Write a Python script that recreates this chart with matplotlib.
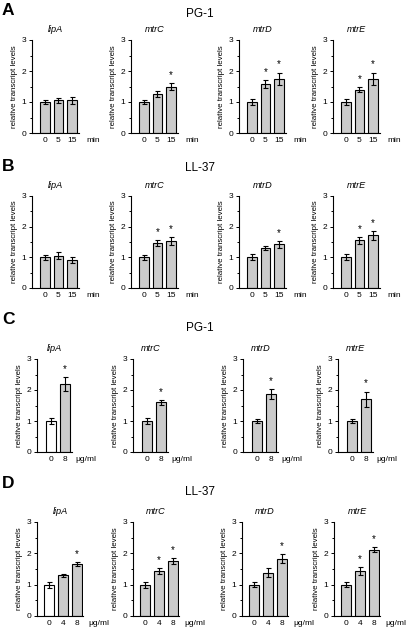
import numpy as np
import matplotlib.pyplot as plt

plt.rcParams['font.family'] = ['Liberation Sans', 'DejaVu Sans']

# ---- data ----
genes = ['lipA', 'mtrC', 'mtrD', 'mtrE']
time_ticks = ['0', '5', '15']
dose_ticks_c = ['0', '8']
dose_ticks_d = ['0', '4', '8']

# A: PG-1, time course (rows = genes)
a_mean = [[1.00, 1.05, 1.05], [1.00, 1.25, 1.50], [1.00, 1.57, 1.75], [1.00, 1.40, 1.75]]
a_err = [[0.08, 0.07, 0.10], [0.08, 0.10, 0.12], [0.10, 0.13, 0.20], [0.10, 0.08, 0.20]]
a_sig = [[0, 0, 0], [0, 0, 1], [0, 1, 1], [0, 1, 1]]

# B: LL-37, time course
b_mean = [[1.00, 1.05, 0.92], [1.00, 1.47, 1.53], [1.00, 1.30, 1.42], [1.00, 1.55, 1.72]]
b_err = [[0.08, 0.12, 0.10], [0.08, 0.10, 0.13], [0.10, 0.07, 0.10], [0.10, 0.10, 0.15]]
b_sig = [[0, 0, 0], [0, 1, 1], [0, 0, 1], [0, 1, 1]]

# C: PG-1, dose
c_mean = [[1.00, 2.20], [1.00, 1.60], [1.00, 1.87], [1.00, 1.70]]
c_err = [[0.10, 0.22], [0.10, 0.08], [0.08, 0.17], [0.08, 0.25]]
c_sig = [[0, 1], [0, 1], [0, 1], [0, 1]]

# D: LL-37, dose
d_mean = [[1.00, 1.30, 1.65], [1.00, 1.43, 1.75], [1.00, 1.38, 1.83], [1.00, 1.43, 2.12]]
d_err = [[0.10, 0.05, 0.06], [0.10, 0.10, 0.10], [0.08, 0.15, 0.15], [0.08, 0.13, 0.08]]
d_sig = [[0, 0, 1], [0, 1, 1], [0, 0, 1], [0, 1, 1]]

W, H = 416, 627
fig = plt.figure(figsize=(W / 100, H / 100), dpi=100)


def add_ax(left, top, width, height):
    # pixel box (from top-left) -> figure fraction
    return fig.add_axes([left / W, 1 - (top + height) / H, width / W, height / H])


def draw(ax, labels, mean, err, sig, xlim, unit, unit_dx, title, first_white=False):
    x = np.arange(len(mean))
    colors = ['#cbcbcb'] * len(mean)
    if first_white:
        colors[0] = 'white'
    ax.bar(x, mean, width=0.72, color=colors, edgecolor='black', linewidth=0.8,
           yerr=err, error_kw=dict(ecolor='black', elinewidth=0.8, capsize=1.8, capthick=0.8))
    for xi, m, e, s in zip(x, mean, err, sig):
        if s:
            ax.annotate('*', xy=(xi, m + e), xytext=(0, 3), textcoords='offset pixels',
                        ha='center', va='bottom', fontsize=7)
    ax.set_xlim(xlim)
    ax.set_ylim(0, 3)
    ax.set_xticks(x, labels)
    ax.set_yticks([0, 1, 2, 3])
    ax.set_yticks([0.5, 1.5, 2.5], minor=True)
    for s in ['top', 'right']:
        ax.spines[s].set_visible(False)
    for s in ['left', 'bottom']:
        ax.spines[s].set_linewidth(0.8)
    ax.tick_params(axis='x', length=0, pad=3, labelsize=6)
    ax.tick_params(axis='y', which='major', length=2.5, width=0.7, pad=1.5, labelsize=6)
    ax.tick_params(axis='y', which='minor', length=1.3, width=0.7)
    ax.set_ylabel('relative transcript levels', fontsize=5.7, labelpad=2.5)
    ax.annotate(title, xy=(0.5, 1), xycoords='axes fraction', xytext=(0, 10),
                textcoords='offset pixels', ha='center', va='center',
                fontsize=6.6, style='italic')
    ax.annotate(unit, xy=(1, 0), xycoords='axes fraction', xytext=(unit_dx, -4.2),
                textcoords='offset pixels', ha='left', va='top', fontsize=6)


rows = [
    ('A', 3, 'PG-1', 14, 40, 133, [32, 131, 239, 333], 47, (-0.93, 2.5), time_ticks, 'min', 7,
     a_mean, a_err, a_sig, False),
    ('B', 159, 'LL-37', 168, 196, 288, [32, 131, 239, 333], 47, (-0.93, 2.5), time_ticks, 'min', 7,
     b_mean, b_err, b_sig, False),
    ('C', 312, 'PG-1', 328, 359, 452, [37, 133, 243, 338], 35, (-1.0, 1.5), dose_ticks_c, 'μg/ml', 3,
     c_mean, c_err, c_sig, True),
    ('D', 476, 'LL-37', 492, 522, 616, [37, 133, 242, 334], 46, (-0.85, 2.45), dose_ticks_d, 'μg/ml', 5,
     d_mean, d_err, d_sig, True),
]

for (letter, ly, group, gy, top, bottom, lefts, width, xlim, ticks, unit, udx,
     means, errs, sigs, white0) in rows:
    fig.text(2 / W, 1 - ly / H, letter, fontsize=12.5, fontweight='bold', va='top', ha='left')
    fig.text(200 / W, 1 - gy / H, group, fontsize=8.5, va='center', ha='center')
    for i, g in enumerate(genes):
        ax = add_ax(lefts[i], top, width, bottom - top)
        draw(ax, ticks, means[i], errs[i], sigs[i], xlim, unit, udx, g,
             first_white=(white0 and g == 'lipA'))

fig.savefig('out.png', dpi=100)
